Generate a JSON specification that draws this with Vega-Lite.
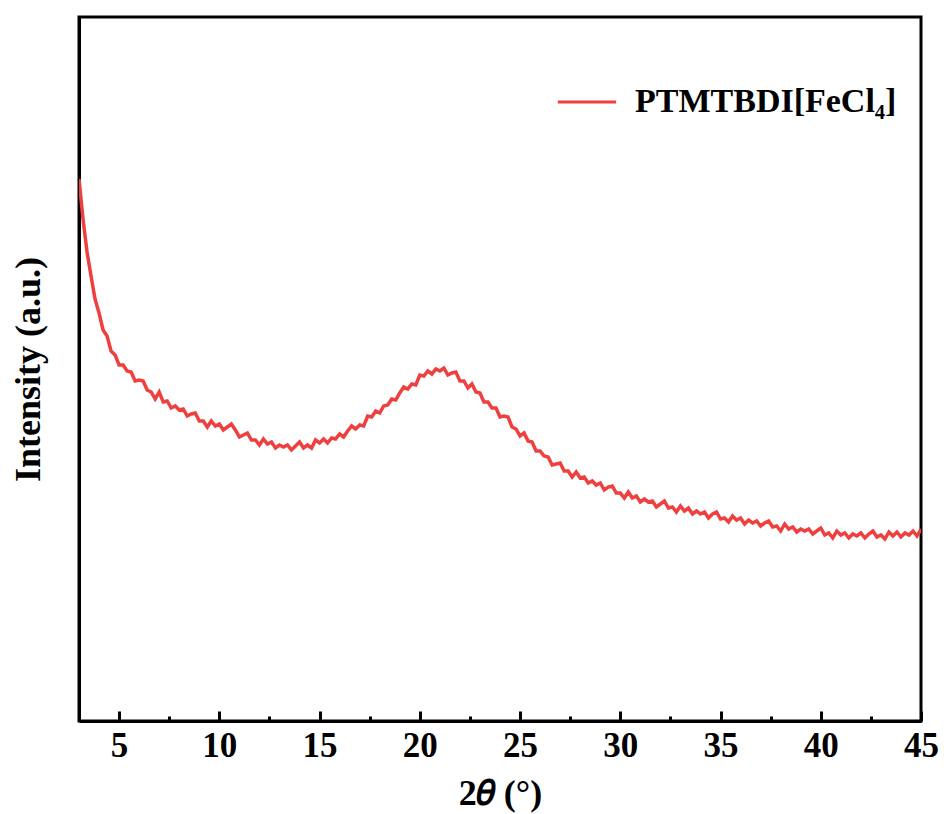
{
  "$schema": "https://vega.github.io/schema/vega-lite/v6.json",
  "width": 842,
  "height": 704,
  "autosize": {"type": "none"},
  "padding": {"left": 79, "top": 17, "right": 23, "bottom": 93},
  "background": "white",
  "config": {
    "view": {"stroke": "black", "strokeWidth": 3},
    "font": "Liberation Serif"
  },
  "data": {"values": [
    {"s":"PTMTBDI[FeCl₄]","x":3.0,"y":542},{"s":"PTMTBDI[FeCl₄]","x":3.2,"y":502},{"s":"PTMTBDI[FeCl₄]","x":3.4,"y":469},{"s":"PTMTBDI[FeCl₄]","x":3.6,"y":445},{"s":"PTMTBDI[FeCl₄]","x":3.8,"y":422},
    {"s":"PTMTBDI[FeCl₄]","x":4.0,"y":408},{"s":"PTMTBDI[FeCl₄]","x":4.2,"y":391},{"s":"PTMTBDI[FeCl₄]","x":4.4,"y":385},{"s":"PTMTBDI[FeCl₄]","x":4.6,"y":370},{"s":"PTMTBDI[FeCl₄]","x":4.8,"y":366},
    {"s":"PTMTBDI[FeCl₄]","x":5.0,"y":356},{"s":"PTMTBDI[FeCl₄]","x":5.2,"y":356},{"s":"PTMTBDI[FeCl₄]","x":5.4,"y":350},{"s":"PTMTBDI[FeCl₄]","x":5.6,"y":349},{"s":"PTMTBDI[FeCl₄]","x":5.8,"y":340},
    {"s":"PTMTBDI[FeCl₄]","x":6.0,"y":341},{"s":"PTMTBDI[FeCl₄]","x":6.2,"y":340},{"s":"PTMTBDI[FeCl₄]","x":6.4,"y":331},{"s":"PTMTBDI[FeCl₄]","x":6.6,"y":329},{"s":"PTMTBDI[FeCl₄]","x":6.8,"y":322},
    {"s":"PTMTBDI[FeCl₄]","x":7.0,"y":329},{"s":"PTMTBDI[FeCl₄]","x":7.2,"y":319},{"s":"PTMTBDI[FeCl₄]","x":7.4,"y":320},{"s":"PTMTBDI[FeCl₄]","x":7.6,"y":313},{"s":"PTMTBDI[FeCl₄]","x":7.8,"y":315},
    {"s":"PTMTBDI[FeCl₄]","x":8.0,"y":311},{"s":"PTMTBDI[FeCl₄]","x":8.2,"y":312},{"s":"PTMTBDI[FeCl₄]","x":8.4,"y":305},{"s":"PTMTBDI[FeCl₄]","x":8.6,"y":307},{"s":"PTMTBDI[FeCl₄]","x":8.8,"y":308},
    {"s":"PTMTBDI[FeCl₄]","x":9.0,"y":300},{"s":"PTMTBDI[FeCl₄]","x":9.2,"y":300},{"s":"PTMTBDI[FeCl₄]","x":9.4,"y":294},{"s":"PTMTBDI[FeCl₄]","x":9.6,"y":300},{"s":"PTMTBDI[FeCl₄]","x":9.8,"y":295},
    {"s":"PTMTBDI[FeCl₄]","x":10.0,"y":297},{"s":"PTMTBDI[FeCl₄]","x":10.2,"y":291},{"s":"PTMTBDI[FeCl₄]","x":10.4,"y":294},{"s":"PTMTBDI[FeCl₄]","x":10.6,"y":297},{"s":"PTMTBDI[FeCl₄]","x":10.8,"y":291},
    {"s":"PTMTBDI[FeCl₄]","x":11.0,"y":284},{"s":"PTMTBDI[FeCl₄]","x":11.2,"y":286},{"s":"PTMTBDI[FeCl₄]","x":11.4,"y":288},{"s":"PTMTBDI[FeCl₄]","x":11.6,"y":281},{"s":"PTMTBDI[FeCl₄]","x":11.8,"y":281},
    {"s":"PTMTBDI[FeCl₄]","x":12.0,"y":276},{"s":"PTMTBDI[FeCl₄]","x":12.2,"y":282},{"s":"PTMTBDI[FeCl₄]","x":12.4,"y":277},{"s":"PTMTBDI[FeCl₄]","x":12.6,"y":279},{"s":"PTMTBDI[FeCl₄]","x":12.8,"y":273},
    {"s":"PTMTBDI[FeCl₄]","x":13.0,"y":276},{"s":"PTMTBDI[FeCl₄]","x":13.2,"y":274},{"s":"PTMTBDI[FeCl₄]","x":13.4,"y":276},{"s":"PTMTBDI[FeCl₄]","x":13.6,"y":271},{"s":"PTMTBDI[FeCl₄]","x":13.8,"y":275},
    {"s":"PTMTBDI[FeCl₄]","x":14.0,"y":279},{"s":"PTMTBDI[FeCl₄]","x":14.2,"y":273},{"s":"PTMTBDI[FeCl₄]","x":14.4,"y":276},{"s":"PTMTBDI[FeCl₄]","x":14.6,"y":273},{"s":"PTMTBDI[FeCl₄]","x":14.8,"y":281},
    {"s":"PTMTBDI[FeCl₄]","x":15.0,"y":278},{"s":"PTMTBDI[FeCl₄]","x":15.2,"y":282},{"s":"PTMTBDI[FeCl₄]","x":15.4,"y":278},{"s":"PTMTBDI[FeCl₄]","x":15.6,"y":283},{"s":"PTMTBDI[FeCl₄]","x":15.8,"y":282},
    {"s":"PTMTBDI[FeCl₄]","x":16.0,"y":287},{"s":"PTMTBDI[FeCl₄]","x":16.2,"y":284},{"s":"PTMTBDI[FeCl₄]","x":16.4,"y":290},{"s":"PTMTBDI[FeCl₄]","x":16.6,"y":295},{"s":"PTMTBDI[FeCl₄]","x":16.8,"y":292},
    {"s":"PTMTBDI[FeCl₄]","x":17.0,"y":296},{"s":"PTMTBDI[FeCl₄]","x":17.2,"y":295},{"s":"PTMTBDI[FeCl₄]","x":17.4,"y":305},{"s":"PTMTBDI[FeCl₄]","x":17.6,"y":304},{"s":"PTMTBDI[FeCl₄]","x":17.8,"y":310},
    {"s":"PTMTBDI[FeCl₄]","x":18.0,"y":308},{"s":"PTMTBDI[FeCl₄]","x":18.2,"y":315},{"s":"PTMTBDI[FeCl₄]","x":18.4,"y":316},{"s":"PTMTBDI[FeCl₄]","x":18.6,"y":322},{"s":"PTMTBDI[FeCl₄]","x":18.8,"y":321},
    {"s":"PTMTBDI[FeCl₄]","x":19.0,"y":328},{"s":"PTMTBDI[FeCl₄]","x":19.2,"y":334},{"s":"PTMTBDI[FeCl₄]","x":19.4,"y":332},{"s":"PTMTBDI[FeCl₄]","x":19.6,"y":337},{"s":"PTMTBDI[FeCl₄]","x":19.8,"y":336},
    {"s":"PTMTBDI[FeCl₄]","x":20.0,"y":346},{"s":"PTMTBDI[FeCl₄]","x":20.2,"y":345},{"s":"PTMTBDI[FeCl₄]","x":20.4,"y":350},{"s":"PTMTBDI[FeCl₄]","x":20.6,"y":347},{"s":"PTMTBDI[FeCl₄]","x":20.8,"y":352},
    {"s":"PTMTBDI[FeCl₄]","x":21.0,"y":350},{"s":"PTMTBDI[FeCl₄]","x":21.2,"y":353},{"s":"PTMTBDI[FeCl₄]","x":21.4,"y":346},{"s":"PTMTBDI[FeCl₄]","x":21.6,"y":348},{"s":"PTMTBDI[FeCl₄]","x":21.8,"y":349},
    {"s":"PTMTBDI[FeCl₄]","x":22.0,"y":340},{"s":"PTMTBDI[FeCl₄]","x":22.2,"y":340},{"s":"PTMTBDI[FeCl₄]","x":22.4,"y":333},{"s":"PTMTBDI[FeCl₄]","x":22.6,"y":337},{"s":"PTMTBDI[FeCl₄]","x":22.8,"y":329},
    {"s":"PTMTBDI[FeCl₄]","x":23.0,"y":328},{"s":"PTMTBDI[FeCl₄]","x":23.2,"y":319},{"s":"PTMTBDI[FeCl₄]","x":23.4,"y":319},{"s":"PTMTBDI[FeCl₄]","x":23.6,"y":313},{"s":"PTMTBDI[FeCl₄]","x":23.8,"y":313},
    {"s":"PTMTBDI[FeCl₄]","x":24.0,"y":304},{"s":"PTMTBDI[FeCl₄]","x":24.2,"y":305},{"s":"PTMTBDI[FeCl₄]","x":24.4,"y":304},{"s":"PTMTBDI[FeCl₄]","x":24.6,"y":294},{"s":"PTMTBDI[FeCl₄]","x":24.8,"y":292},
    {"s":"PTMTBDI[FeCl₄]","x":25.0,"y":285},{"s":"PTMTBDI[FeCl₄]","x":25.2,"y":288},{"s":"PTMTBDI[FeCl₄]","x":25.4,"y":280},{"s":"PTMTBDI[FeCl₄]","x":25.6,"y":279},{"s":"PTMTBDI[FeCl₄]","x":25.8,"y":270},
    {"s":"PTMTBDI[FeCl₄]","x":26.0,"y":270},{"s":"PTMTBDI[FeCl₄]","x":26.2,"y":265},{"s":"PTMTBDI[FeCl₄]","x":26.4,"y":264},{"s":"PTMTBDI[FeCl₄]","x":26.6,"y":256},{"s":"PTMTBDI[FeCl₄]","x":26.8,"y":257},
    {"s":"PTMTBDI[FeCl₄]","x":27.0,"y":258},{"s":"PTMTBDI[FeCl₄]","x":27.2,"y":250},{"s":"PTMTBDI[FeCl₄]","x":27.4,"y":250},{"s":"PTMTBDI[FeCl₄]","x":27.6,"y":244},{"s":"PTMTBDI[FeCl₄]","x":27.8,"y":249},
    {"s":"PTMTBDI[FeCl₄]","x":28.0,"y":243},{"s":"PTMTBDI[FeCl₄]","x":28.2,"y":244},{"s":"PTMTBDI[FeCl₄]","x":28.4,"y":238},{"s":"PTMTBDI[FeCl₄]","x":28.6,"y":240},{"s":"PTMTBDI[FeCl₄]","x":28.8,"y":236},
    {"s":"PTMTBDI[FeCl₄]","x":29.0,"y":238},{"s":"PTMTBDI[FeCl₄]","x":29.2,"y":231},{"s":"PTMTBDI[FeCl₄]","x":29.4,"y":234},{"s":"PTMTBDI[FeCl₄]","x":29.6,"y":235},{"s":"PTMTBDI[FeCl₄]","x":29.8,"y":228},
    {"s":"PTMTBDI[FeCl₄]","x":30.0,"y":228},{"s":"PTMTBDI[FeCl₄]","x":30.2,"y":223},{"s":"PTMTBDI[FeCl₄]","x":30.4,"y":229},{"s":"PTMTBDI[FeCl₄]","x":30.6,"y":223},{"s":"PTMTBDI[FeCl₄]","x":30.8,"y":225},
    {"s":"PTMTBDI[FeCl₄]","x":31.0,"y":219},{"s":"PTMTBDI[FeCl₄]","x":31.2,"y":222},{"s":"PTMTBDI[FeCl₄]","x":31.4,"y":219},{"s":"PTMTBDI[FeCl₄]","x":31.6,"y":220},{"s":"PTMTBDI[FeCl₄]","x":31.8,"y":214},
    {"s":"PTMTBDI[FeCl₄]","x":32.0,"y":217},{"s":"PTMTBDI[FeCl₄]","x":32.2,"y":220},{"s":"PTMTBDI[FeCl₄]","x":32.4,"y":213},{"s":"PTMTBDI[FeCl₄]","x":32.6,"y":214},{"s":"PTMTBDI[FeCl₄]","x":32.8,"y":209},
    {"s":"PTMTBDI[FeCl₄]","x":33.0,"y":215},{"s":"PTMTBDI[FeCl₄]","x":33.2,"y":210},{"s":"PTMTBDI[FeCl₄]","x":33.4,"y":213},{"s":"PTMTBDI[FeCl₄]","x":33.6,"y":207},{"s":"PTMTBDI[FeCl₄]","x":33.8,"y":210},
    {"s":"PTMTBDI[FeCl₄]","x":34.0,"y":207},{"s":"PTMTBDI[FeCl₄]","x":34.2,"y":209},{"s":"PTMTBDI[FeCl₄]","x":34.4,"y":203},{"s":"PTMTBDI[FeCl₄]","x":34.6,"y":207},{"s":"PTMTBDI[FeCl₄]","x":34.8,"y":209},
    {"s":"PTMTBDI[FeCl₄]","x":35.0,"y":202},{"s":"PTMTBDI[FeCl₄]","x":35.2,"y":203},{"s":"PTMTBDI[FeCl₄]","x":35.4,"y":199},{"s":"PTMTBDI[FeCl₄]","x":35.6,"y":205},{"s":"PTMTBDI[FeCl₄]","x":35.8,"y":201},
    {"s":"PTMTBDI[FeCl₄]","x":36.0,"y":203},{"s":"PTMTBDI[FeCl₄]","x":36.2,"y":197},{"s":"PTMTBDI[FeCl₄]","x":36.4,"y":201},{"s":"PTMTBDI[FeCl₄]","x":36.6,"y":198},{"s":"PTMTBDI[FeCl₄]","x":36.8,"y":200},
    {"s":"PTMTBDI[FeCl₄]","x":37.0,"y":195},{"s":"PTMTBDI[FeCl₄]","x":37.2,"y":198},{"s":"PTMTBDI[FeCl₄]","x":37.4,"y":200},{"s":"PTMTBDI[FeCl₄]","x":37.6,"y":194},{"s":"PTMTBDI[FeCl₄]","x":37.8,"y":195},
    {"s":"PTMTBDI[FeCl₄]","x":38.0,"y":190},{"s":"PTMTBDI[FeCl₄]","x":38.2,"y":197},{"s":"PTMTBDI[FeCl₄]","x":38.4,"y":192},{"s":"PTMTBDI[FeCl₄]","x":38.6,"y":194},{"s":"PTMTBDI[FeCl₄]","x":38.8,"y":189},
    {"s":"PTMTBDI[FeCl₄]","x":39.0,"y":192},{"s":"PTMTBDI[FeCl₄]","x":39.2,"y":190},{"s":"PTMTBDI[FeCl₄]","x":39.4,"y":192},{"s":"PTMTBDI[FeCl₄]","x":39.6,"y":187},{"s":"PTMTBDI[FeCl₄]","x":39.8,"y":190},
    {"s":"PTMTBDI[FeCl₄]","x":40.0,"y":193},{"s":"PTMTBDI[FeCl₄]","x":40.2,"y":186},{"s":"PTMTBDI[FeCl₄]","x":40.4,"y":188},{"s":"PTMTBDI[FeCl₄]","x":40.6,"y":183},{"s":"PTMTBDI[FeCl₄]","x":40.8,"y":190},
    {"s":"PTMTBDI[FeCl₄]","x":41.0,"y":186},{"s":"PTMTBDI[FeCl₄]","x":41.2,"y":188},{"s":"PTMTBDI[FeCl₄]","x":41.4,"y":183},{"s":"PTMTBDI[FeCl₄]","x":41.6,"y":187},{"s":"PTMTBDI[FeCl₄]","x":41.8,"y":185},
    {"s":"PTMTBDI[FeCl₄]","x":42.0,"y":188},{"s":"PTMTBDI[FeCl₄]","x":42.2,"y":183},{"s":"PTMTBDI[FeCl₄]","x":42.4,"y":187},{"s":"PTMTBDI[FeCl₄]","x":42.6,"y":190},{"s":"PTMTBDI[FeCl₄]","x":42.8,"y":184},
    {"s":"PTMTBDI[FeCl₄]","x":43.0,"y":186},{"s":"PTMTBDI[FeCl₄]","x":43.2,"y":182},{"s":"PTMTBDI[FeCl₄]","x":43.4,"y":189},{"s":"PTMTBDI[FeCl₄]","x":43.6,"y":185},{"s":"PTMTBDI[FeCl₄]","x":43.8,"y":189},
    {"s":"PTMTBDI[FeCl₄]","x":44.0,"y":184},{"s":"PTMTBDI[FeCl₄]","x":44.2,"y":188},{"s":"PTMTBDI[FeCl₄]","x":44.4,"y":186},{"s":"PTMTBDI[FeCl₄]","x":44.6,"y":190},{"s":"PTMTBDI[FeCl₄]","x":44.8,"y":185},
    {"s":"PTMTBDI[FeCl₄]","x":45.0,"y":192}
  ]},
  "mark": {"type": "line", "strokeWidth": 3.5, "clip": true},
  "encoding": {
    "x": {
      "field": "x", "type": "quantitative",
      "scale": {"domain": [3, 45], "nice": false, "zero": false},
      "axis": {
        "title": "2𝜃 (°)",
        "titleFont": "Liberation Serif", "titleFontSize": 36, "titleFontWeight": "bold", "titleColor": "black",
        "titlePadding": 8,
        "values": [5, 7.5, 10, 12.5, 15, 17.5, 20, 22.5, 25, 27.5, 30, 32.5, 35, 37.5, 40, 42.5, 45],
        "labelExpr": "datum.value % 5 === 0 ? datum.label : ''",
        "labelFont": "Liberation Serif", "labelFontSize": 35, "labelFontWeight": "bold", "labelColor": "black",
        "labelPadding": 17,
        "labelFlush": false,
        "labelOverlap": false,
        "domainColor": "black", "domainWidth": 3,
        "tickColor": "black", "tickWidth": 3,
        "tickSize": {"condition": {"test": "datum.value % 5 === 0", "value": -10}, "value": -5},
        "grid": false
      }
    },
    "y": {
      "field": "y", "type": "quantitative",
      "scale": {"domain": [0, 704], "nice": false, "zero": false},
      "axis": {
        "title": "Intensity (a.u.)",
        "titleFont": "Liberation Serif", "titleFontSize": 36, "titleFontWeight": "bold", "titleColor": "black",
        "titlePadding": 32,
        "labels": false, "ticks": false, "grid": false,
        "domainColor": "black", "domainWidth": 3
      }
    },
    "color": {
      "field": "s", "type": "nominal",
      "scale": {"range": ["#EF4040"]},
      "legend": {
        "title": null,
        "orient": "none",
        "legendX": 477,
        "legendY": 54,
        "padding": 0,
        "symbolType": "stroke",
        "symbolSize": 3400,
        "symbolStrokeWidth": 3,
        "labelFont": "Liberation Serif", "labelFontSize": 34, "labelFontWeight": "bold", "labelColor": "black",
        "labelOffset": 17,
        "labelLimit": 500
      }
    }
  }
}
